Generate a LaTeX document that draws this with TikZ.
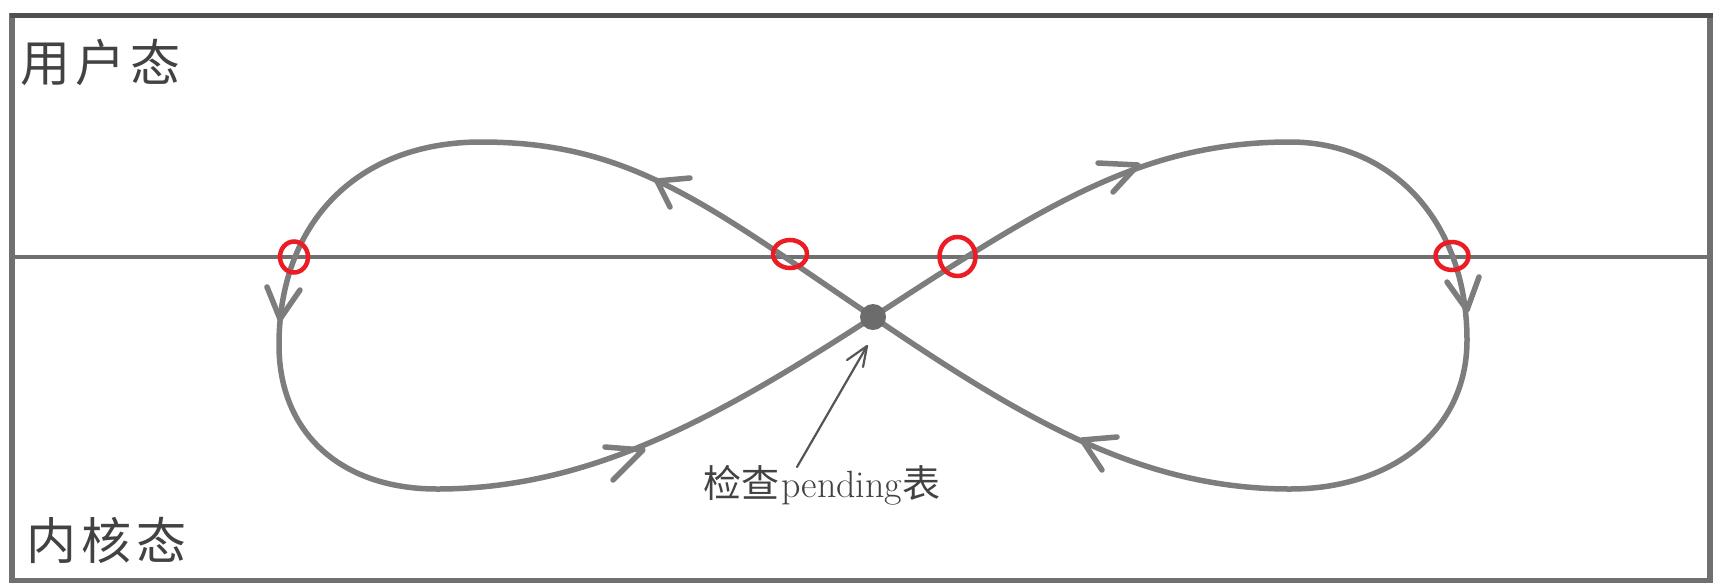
\documentclass[tikz,border=0pt]{standalone}
\usepackage{fontspec}
\newfontfamily\cjk{Noto Sans CJK SC}
\definecolor{curvegray}{RGB}{125,125,125}
\definecolor{divgray}{RGB}{112,112,112}
\definecolor{framegray}{RGB}{112,112,112}
\definecolor{topgray}{RGB}{80,80,80}
\definecolor{ringred}{RGB}{236,28,36}
\definecolor{dotgray}{RGB}{108,108,108}
\definecolor{txtgray}{RGB}{66,66,66}
\definecolor{ptrgray}{RGB}{85,85,85}
\tikzset{
  curve/.style={draw=curvegray, line width=5.5pt, line cap=round, line join=round},
  barb/.style={draw=curvegray, line width=5.5pt, line cap=round, line join=round},
  redring/.style={draw=ringred, line width=4.5pt},
  divider/.style={draw=divgray, line width=4pt},
  pointer/.style={draw=ptrgray, line width=2.2pt, line cap=round, line join=round},
  bigtxt/.style={anchor=base west, inner sep=0pt, text=txtgray, font=\cjk\fontsize{50}{52}\selectfont},
  smalltxt/.style={anchor=base west, inner sep=0pt, text=txtgray, font=\fontsize{38}{40}\selectfont},
}
\begin{document}
\begin{tikzpicture}[x=1pt,y=-1pt]
\useasboundingbox (0,0) rectangle (1715,582);
\fill[white] (0,0) rectangle (1715,582);
% frame
\draw[framegray, line width=5.5pt] (12,15.5) rectangle (1710,581);
\draw[topgray, line width=5pt] (9.5,15.5) -- (1712.5,15.5);
% divider
\coordinate (divL) at (12,257);
\coordinate (divR) at (1710,257);
\draw[divider] (divL) -- (divR);
% labels
\node[bigtxt] (user) at (20,81) {用\hspace{5pt}户\hspace{5pt}态};
\node[bigtxt] (kernel) at (26,559) {内\hspace{5pt}核\hspace{5pt}态};
% figure eight
\coordinate (C) at (873,317);
\coordinate (T1) at (481,142);
\coordinate (L) at (279,345);
\coordinate (B1) at (437,489);
\coordinate (T2) at (1290,142);
\coordinate (R) at (1467,340);
\coordinate (B2) at (1290,489);
\draw[curve] (C) .. controls (707,205) and (631,142) .. (T1)
  .. controls (358,142) and (279,222) .. (L)
  .. controls (279,432) and (340,489) .. (B1)
  .. controls (587,489) and (713,421) .. (C)
  .. controls (1041,208) and (1140,142) .. (T2)
  .. controls (1392,142) and (1467,222) .. (R)
  .. controls (1467,432) and (1390,489) .. (B2)
  .. controls (1140,489) and (1022,418) .. cycle;
% arrowheads
\draw[barb] (690,178) -- (657,181) -- (670,207);
\draw[barb] (267,287) -- (280,319) -- (300,290);
\draw[barb] (605,447) -- (643,450) -- (613,480);
\draw[barb] (1098,163) -- (1138,165) -- (1113,192);
\draw[barb] (1447,282) -- (1467,310) -- (1479,277);
\draw[barb] (1117,437) -- (1082,440) -- (1102,470);
% red rings
\coordinate (r1) at (294,257);
\coordinate (r2) at (790,254);
\coordinate (r3) at (957.5,256.5);
\coordinate (r4) at (1452,256);
\draw[redring] (r1) ellipse [x radius=14pt, y radius=15.5pt];
\draw[redring] (r2) ellipse [x radius=17pt, y radius=14pt];
\draw[redring] (r3) ellipse [x radius=18pt, y radius=19.5pt];
\draw[redring] (r4) ellipse [x radius=16.5pt, y radius=14pt];
% dot
\node[circle, fill=dotgray, minimum size=26pt, inner sep=0pt] (dot) at (C) {};
% pointer label
\node[smalltxt] (lbl) at (703,497) {{\cjk 检查}\hspace{2pt}pending{\cjk 表}};
\coordinate (ptail) at (797,467);
\coordinate (ptip) at (867,346);
\draw[pointer] (ptail) -- (ptip);
\draw[pointer] (847,360) -- (ptip) -- (863,367);
\end{tikzpicture}
\end{document}
